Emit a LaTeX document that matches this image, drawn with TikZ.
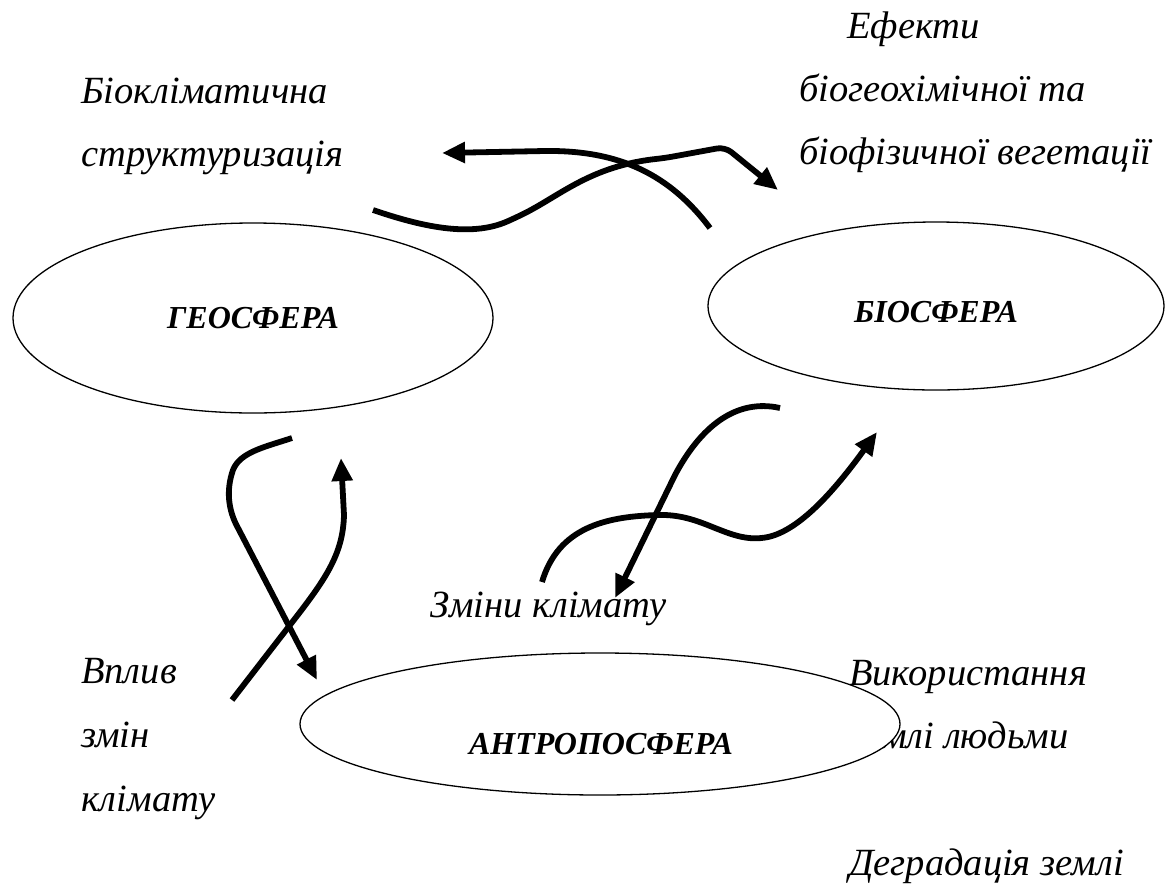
\documentclass[tikz,border=0pt]{standalone}
\usepackage{fontspec}
\setmainfont{Liberation Serif}
\usetikzlibrary{shapes.geometric,arrows.meta}
\tikzset{
  lbl/.style={anchor=base west, inner sep=0pt, font=\fontsize{38.5}{46}\selectfont\itshape},
  sph/.style={draw, ellipse, line width=1.3pt, fill=white, inner sep=0pt},
  sphtxt/.style={inner sep=0pt, font=\fontsize{32}{38}\selectfont\bfseries\itshape},
  flow/.style={line width=5.8pt, -{Triangle[length=23pt,width=20pt]}},
}
\begin{document}
\begin{tikzpicture}[x=1pt,y=-1pt]
\useasboundingbox (0,0) rectangle (1165,884);
% text partly hidden behind the lower ellipse
\node[lbl] (t_zemli) at (851,748) {землі людьми};
% spheres
\node[sph, minimum width=480pt, minimum height=190pt] (geo) at (253,318) {};
\node[sph, minimum width=456pt, minimum height=168pt] (bio) at (936,306) {};
\node[sph, minimum width=600pt, minimum height=142pt] (antro) at (600,724) {};
\node[sphtxt] (geo_t) at (253,318) {ГЕОСФЕРА};
\node[sphtxt] (bio_t) at (936,312) {БІОСФЕРА};
\node[sphtxt] (antro_t) at (601,744) {АНТРОПОСФЕРА};
% labels
\node[lbl] (t_ef1) at (847,38) {Ефекти};
\node[lbl] (t_ef2) at (799,101) {біогеохімічної та};
\node[lbl] (t_ef3) at (799,164) {біофізичної вегетації};
\node[lbl] (t_bk1) at (81,103) {Біокліматична};
\node[lbl] (t_bk2) at (81,166) {структуризація};
\node[lbl] (t_zk) at (430,617) {Зміни клімату};
\node[lbl] (t_vp1) at (81,683) {Вплив};
\node[lbl] (t_vp2) at (81,747) {змін};
\node[lbl] (t_vp3) at (81,811) {клімату};
\node[lbl] (t_vyk) at (849,685) {Використання};
\node[lbl] (t_deg) at (849,875) {Деградація землі};
% connector end points
\coordinate (a0) at (710,228); \coordinate (a1) at (442,153);
\coordinate (b0) at (373,210); \coordinate (b1) at (778,190);
\coordinate (c0) at (292,438); \coordinate (c1) at (317,680);
\coordinate (d0) at (232,700); \coordinate (d1) at (341,458);
\coordinate (e0) at (780,408); \coordinate (e1) at (615,598);
\coordinate (f0) at (542,582); \coordinate (f1) at (877,432);
% arrows
\draw[flow] (a0) .. controls (670,175) and (620,150) .. (545,151) -- (a1);
\draw[flow, rounded corners=8pt] (b0) .. controls (420,226) and (470,238) .. (515,218)
   .. controls (560,196) and (590,166) .. (665,158) -- (725,147) -- (b1);
\draw[flow] (c0) .. controls (265,447) and (240,452) .. (233,470)
   .. controls (226,490) and (228,510) .. (238,528) -- (c1);
\draw[flow] (d0) -- (290,625) .. controls (325,580) and (343,555) .. (344,515) -- (d1);
\draw[flow] (e0) .. controls (735,398) and (700,428) .. (675,475) -- (e1);
\draw[flow] (f0) .. controls (558,528) and (605,516) .. (660,515)
   .. controls (705,514) and (730,545) .. (768,537)
   .. controls (800,530) and (835,490) .. (f1);
\end{tikzpicture}
\end{document}
